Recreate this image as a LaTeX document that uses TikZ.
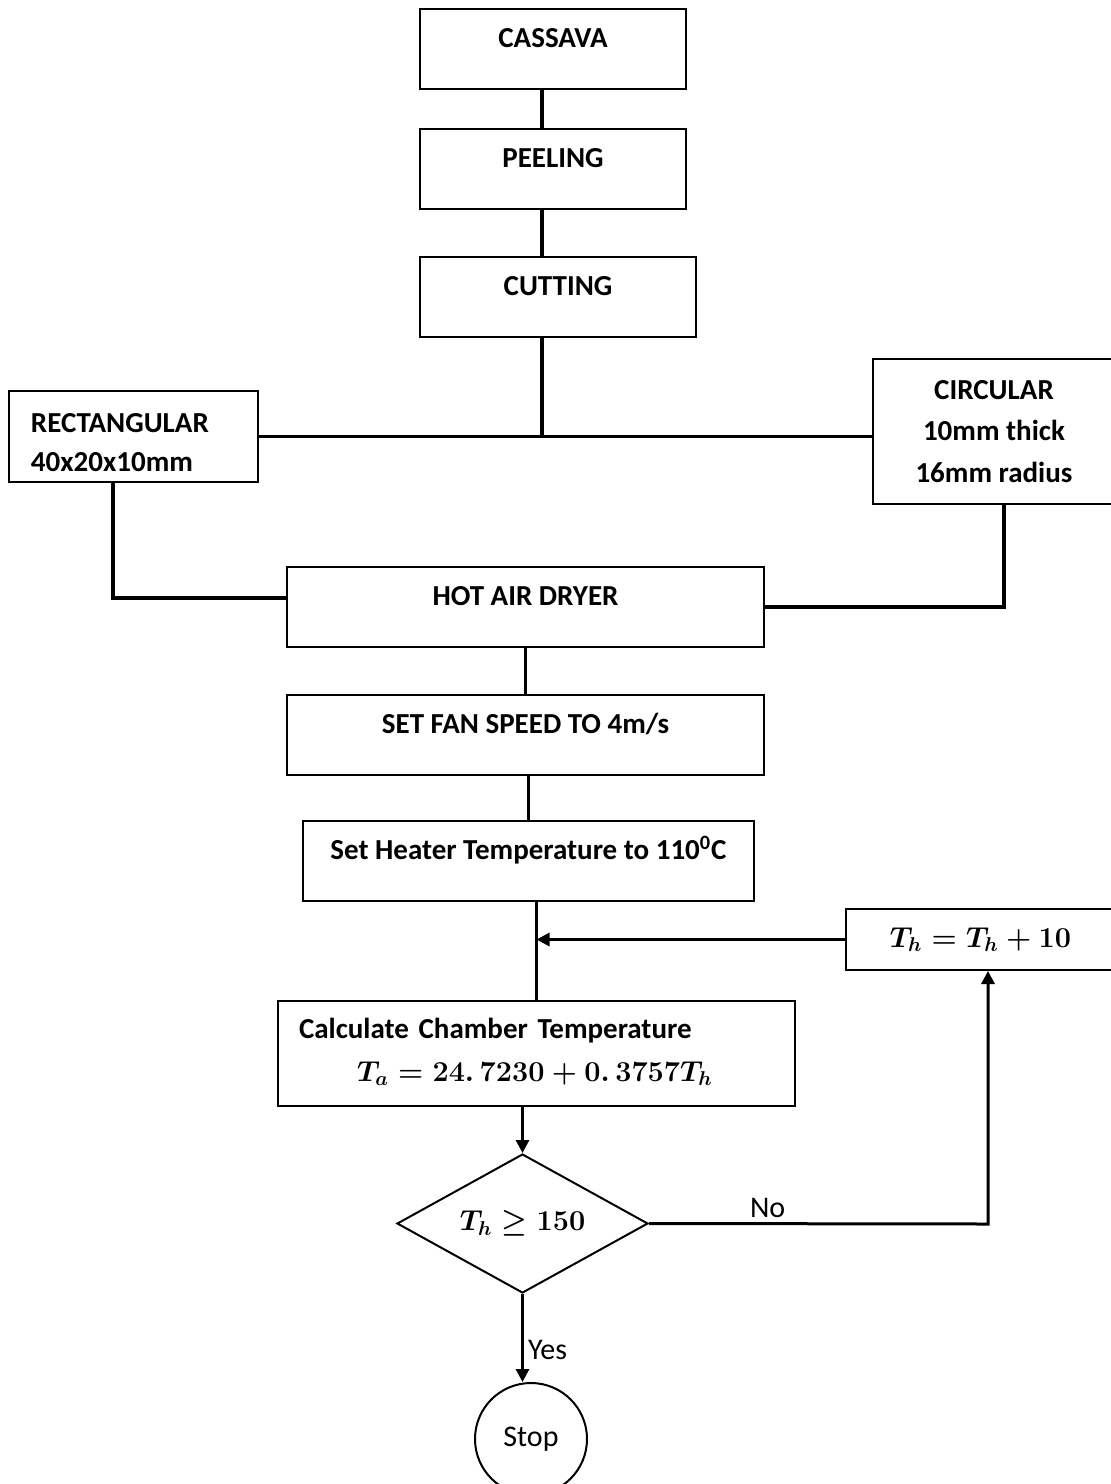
\documentclass[tikz,border=0pt]{standalone}
\usepackage[no-math]{fontspec}
\setmainfont{Carlito}
\usepackage{amsmath, amssymb}
\usetikzlibrary{shapes.geometric, arrows.meta, positioning}

\begin{document}
\begin{tikzpicture}[
  x=0.5pt, y=-0.5pt,
  >={Triangle[length=6.5pt, width=6.5pt]},
  stepbox/.style={draw, rectangle, line width=1pt, inner xsep=4pt, inner ysep=0pt, text height=19.3pt, text depth=20.7pt, font=\bfseries\fontsize{14.5}{20}\selectfont, align=center},
  sidebox/.style={draw, rectangle, line width=1pt, inner sep=0pt, font=\bfseries\fontsize{14.5}{19.5}\selectfont},
  mathbox/.style={draw, rectangle, line width=1pt, inner sep=0pt, font=\boldmath\fontsize{14.5}{17}\selectfont},
  decision/.style={draw, diamond, aspect=1.8, line width=1pt, inner sep=0pt, minimum width=125.5pt, minimum height=69.5pt, font=\boldmath\fontsize{14.5}{17}\selectfont},
  endnode/.style={draw, circle, line width=1pt, inner sep=0pt, minimum size=56pt, font=\fontsize{15}{18}\selectfont},
  link/.style={line width=1.8pt},
  flow/.style={->, line width=1.5pt},
  answer/.style={font=\fontsize{15}{18}\selectfont, inner sep=2pt}
]
\useasboundingbox (0,0) rectangle (1110,1484);

% preparation
\node[stepbox, minimum width=133pt] (cassava) at (553,49) {CASSAVA};
\node[stepbox, minimum width=133pt] (peel)    [below=19pt of cassava] {PEELING};
\node[stepbox, minimum width=138pt] (cut)     at (558,297) {CUTTING};

% the two sample shapes
\node[sidebox, align=left, text width=102.5pt, inner xsep=11pt, text height=20.65pt, text depth=24.85pt] (rect) at (133.5,436.5) {RECTANGULAR\\40x20x10mm};
\node[sidebox, align=center, minimum width=121pt, minimum height=72.5pt, font=\bfseries\fontsize{14.5}{20.75}\selectfont] (circ) at (994,431.5) {CIRCULAR\\10mm thick\\16mm radius};

% drying
\node[stepbox, minimum width=238.5pt] (dryer)  at (525.5,607) {HOT AIR DRYER};
\node[stepbox, minimum width=238.5pt] (fan)    [below=23pt of dryer] {SET FAN SPEED TO 4m/s};
\node[stepbox, minimum width=225.5pt] (heater) at (528.5,861) {Set Heater Temperature to 110\textsuperscript{0}C};

% heater loop
\node[mathbox, minimum width=134.5pt, minimum height=30.5pt] (incr) at (980.5,939.5) {$T_h = T_h + 10$};
\node[sidebox, align=left, text width=237.5pt, inner xsep=10.5pt, text height=18.5pt, text depth=34pt] (calc) at (536.5,1053.5)
  {Calculate Chamber Temperature\\[2pt]\hspace*{29pt}{\boldmath$T_a = 24.\,7230 + 0.\,3757T_h$}};
\node[decision] (check) at (522.5,1223.5) {$T_h \geq 150$};
\node[endnode]  (stop)  at (531,1439) {Stop};

\coordinate (junc)   at (542,437);
\coordinate (rleg)   at (113,598);
\coordinate (cleg)   at (1004,607);
\coordinate (nobend) at (988,1224);

% links
\draw[link] (cassava.south -| junc) -- (peel.north -| junc);
\draw[link] (peel.south -| junc) -- (cut.north -| junc);
\draw[link] (cut.south -| junc) -- (junc);
\draw[link] (rect.east) -- (rect.east -| circ.west);
\draw[link] (rect.south -| rleg) -- (rleg) -- (rleg -| dryer.west);
\draw[link] (circ.south -| cleg) -- (cleg) -- (cleg -| dryer.east);
\draw[link] (dryer.south) -- (fan.north);
\draw[link] (fan.south -| heater.north) -- (heater.north);
\draw[link] (heater.south -| calc.north) -- (calc.north);

% flows
\draw[flow] (incr.west) -- (incr.west -| calc.north);
\draw[flow] (calc.south -| check.north) -- (check.north);
\draw[flow] (check.east) -- (nobend) node[answer, pos=0.35, above]{No} -- (nobend |- incr.south);
\draw[flow] (check.south) -- (check.south |- stop.north) node[answer, pos=0.64, right]{Yes};

\end{tikzpicture}
\end{document}
